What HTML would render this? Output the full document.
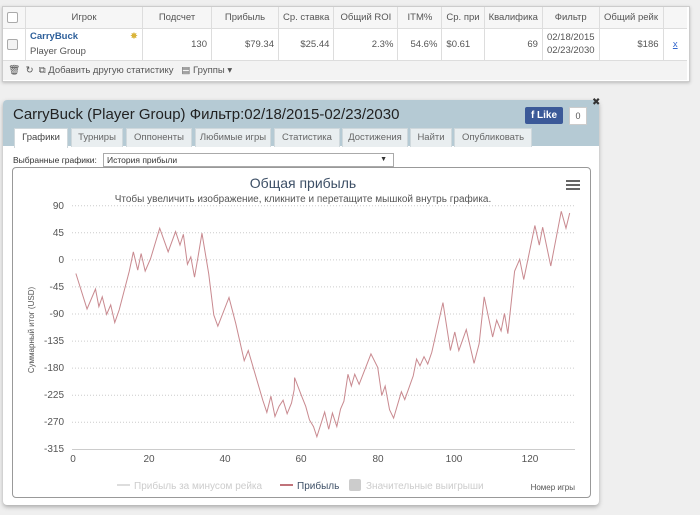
<!DOCTYPE html>
<html><head><meta charset="utf-8"><style>
body{margin:0;width:700px;height:515px;background:#efefef;font-family:"Liberation Sans","DejaVu Sans",sans-serif;position:relative;overflow:hidden}
.abs{position:absolute}
table{border-collapse:collapse;font-size:9.5px;color:#555}
td{border-right:1px solid #ddd;padding:0 4px;white-space:nowrap;overflow:hidden}
.tab{position:absolute;top:128px;height:18px;background:#e9eef0;border:1px solid #cfd8dc;border-bottom:none;font-size:9.5px;color:#666;text-align:center;line-height:18px}
</style></head><body>
<div class="abs" style="left:2px;top:6px;width:686px;height:74px;background:#fff;border:1px solid #ccc;box-shadow:0 1px 3px #bbb"></div>
<table class="abs" style="left:3px;top:7px;width:684px">
<tr style="height:21px;background:#f6f6f6;border-bottom:1px solid #ddd;text-align:center">
<td style="width:14px"><div style="width:9px;height:9px;border:1px solid #aaa;border-radius:2px;background:#fff"></div></td>
<td style="width:108px">Игрок</td><td style="width:60px">Подсчет</td><td style="width:58px">Прибыль</td><td style="width:45px">Ср. ставка</td><td style="width:55px">Общий ROI</td><td style="width:35px">ITM%</td><td style="width:27px">Ср. при</td><td style="width:34px">Квалифика</td><td style="width:42px">Фильтр</td><td style="width:55px">Общий рейк</td><td style="border:none"></td></tr>
<tr style="height:32px;text-align:right">
<td><div style="width:9px;height:9px;border:1px solid #aaa;border-radius:2px;background:#f3f3f3"></div></td>
<td style="text-align:left;line-height:15px"><b style="color:#2d5f9a">CarryBuck</b><span style="float:right;color:#d9b43a">✸</span><br>Player Group</td>
<td>130</td><td>$79.34</td><td>$25.44</td><td>2.3%</td><td>54.6%</td><td style="text-align:left">$0.61</td><td>69</td><td style="text-align:left;line-height:13px">02/18/2015<br>02/23/2030</td><td>$186</td><td style="border:none;text-align:center;color:#36c;text-decoration:underline">x</td></tr>
</table>
<div class="abs" style="left:3px;top:60px;width:684px;height:19px;background:#f3f3f3;border-top:1px solid #ddd;font-size:9.5px;color:#555;line-height:19px">&nbsp;&nbsp;🗑 &nbsp;↻ &nbsp;⧉ Добавить другую статистику &nbsp;&nbsp;▤ Группы ▾</div>

<div class="abs" style="left:3px;top:100px;width:596px;height:405px;background:#fff;border-radius:4px;box-shadow:0 2px 4px #aaa"></div>
<div class="abs" style="left:3px;top:100px;width:596px;height:46px;background:#b5cad4;border-radius:4px 4px 0 0"></div>
<div class="abs" style="left:13px;top:106px;font-size:15px;color:#222">CarryBuck (Player Group) Фильтр:02/18/2015-02/23/2030</div>
<div class="abs" style="left:525px;top:107px;width:38px;height:17px;background:#3b5998;color:#fff;font-size:10px;font-weight:bold;line-height:17px;text-align:center;border-radius:2px">f Like</div>
<div class="abs" style="left:569px;top:107px;width:16px;height:16px;background:#fff;border:1px solid #ccc;font-size:9px;text-align:center;line-height:16px;color:#555">0</div>
<div class="abs" style="left:592px;top:97px;font-size:10px;font-weight:bold;color:#333">✖</div>
<div class="tab" style="left:14px;width:52px;background:#fff;height:19px;color:#444">Графики</div>
<div class="tab" style="left:71px;width:50px">Турниры</div>
<div class="tab" style="left:126px;width:64px">Оппоненты</div>
<div class="tab" style="left:195px;width:74px">Любимые игры</div>
<div class="tab" style="left:274px;width:64px">Статистика</div>
<div class="tab" style="left:342px;width:64px">Достижения</div>
<div class="tab" style="left:410px;width:40px">Найти</div>
<div class="tab" style="left:454px;width:76px">Опубликовать</div>
<div class="abs" style="left:13px;top:155px;font-size:8.5px;color:#333">Выбранные графики:</div>
<div class="abs" style="left:103px;top:153px;width:286px;height:12px;border:1px solid #aaa;font-size:8.5px;color:#333;line-height:12px;padding-left:3px">История прибыли<span style="position:absolute;right:6px;font-size:7px">▼</span></div>
<div class="abs" style="left:12px;top:167px;width:577px;height:329px;border:1px solid #999;border-radius:4px;background:#fff"></div>
<svg class="abs" style="left:0;top:0" width="700" height="515">
<text x="303" y="188" text-anchor="middle" font-size="14" fill="#3d4f66">Общая прибыль</text>
<text x="303" y="202" text-anchor="middle" font-size="10" fill="#555">Чтобы увеличить изображение, кликните и перетащите мышкой внутрь графика.</text>
<g fill="#666"><rect x="566" y="180" width="14" height="2"/><rect x="566" y="184" width="14" height="2"/><rect x="566" y="188" width="14" height="2"/></g>
<g stroke="#ccc" stroke-dasharray="1,2">
<line x1="72" x2="575" y1="205.7" y2="205.7"/><line x1="72" x2="575" y1="232.8" y2="232.8"/><line x1="72" x2="575" y1="259.9" y2="259.9"/><line x1="72" x2="575" y1="286.9" y2="286.9"/><line x1="72" x2="575" y1="314" y2="314"/><line x1="72" x2="575" y1="341.1" y2="341.1"/><line x1="72" x2="575" y1="368.1" y2="368.1"/><line x1="72" x2="575" y1="395.2" y2="395.2"/><line x1="72" x2="575" y1="422.3" y2="422.3"/></g>
<line x1="72" x2="575" y1="449.5" y2="449.5" stroke="#ccc"/>
<g font-size="10" fill="#555" text-anchor="end">
<text x="64" y="209">90</text><text x="64" y="236">45</text><text x="64" y="263">0</text><text x="64" y="290">-45</text><text x="64" y="317">-90</text><text x="64" y="344">-135</text><text x="64" y="371">-180</text><text x="64" y="398">-225</text><text x="64" y="425">-270</text><text x="64" y="452">-315</text></g>
<g font-size="10" fill="#555" text-anchor="middle">
<text x="73" y="462">0</text><text x="149" y="462">20</text><text x="225" y="462">40</text><text x="301" y="462">60</text><text x="378" y="462">80</text><text x="454" y="462">100</text><text x="530" y="462">120</text></g>
<text x="34" y="330" font-size="8" fill="#555" transform="rotate(-90 34 330)" text-anchor="middle">Суммарный итог (USD)</text>
<g transform="translate(60,190) scale(0.338)"><polyline fill="none" stroke="#c98a90" stroke-width="3" points="47,247 80,352 105,293 115,345 125,316 138,368 150,340 162,392 175,355 192,290 205,240 217,183 230,237 240,188 252,240 268,203 295,113 320,183 342,123 355,163 365,131 377,220 387,198 398,258 408,200 420,128 440,248 455,370 467,403 500,318 520,395 545,505 557,475 600,622 612,658 624,610 636,670 648,640 660,622 672,662 685,630 693,590 694,555 715,610 727,640 738,680 750,700 760,730 783,657 795,708 806,660 819,700 830,648 840,625 852,545 862,580 872,545 885,575 920,485 940,525 952,608 962,580 975,650 987,675 1010,597 1020,620 1045,550 1055,500 1065,520 1077,493 1088,515 1100,480 1133,333 1155,475 1168,420 1180,475 1202,413 1225,513 1240,455 1255,316 1280,435 1292,385 1305,417 1315,365 1325,425 1345,240 1360,205 1372,265 1405,105 1418,163 1428,110 1452,225 1483,63 1497,113 1508,68"/></g>
<line x1="117" x2="130" y1="485" y2="485" stroke="#ddd" stroke-width="2"/>
<text x="134" y="489" font-size="10" fill="#ccc">Прибыль за минусом рейка</text>
<line x1="280" x2="293" y1="485" y2="485" stroke="#c0737a" stroke-width="2"/>
<text x="297" y="489" font-size="10" fill="#3d4f66">Прибыль</text>
<rect x="349" y="479" width="12" height="12" fill="#ccc" rx="2"/>
<text x="366" y="489" font-size="10" fill="#ccc">Значительные выигрыши</text>
<text x="575" y="490" font-size="8" fill="#555" text-anchor="end">Номер игры</text>
</svg>
</body></html>
